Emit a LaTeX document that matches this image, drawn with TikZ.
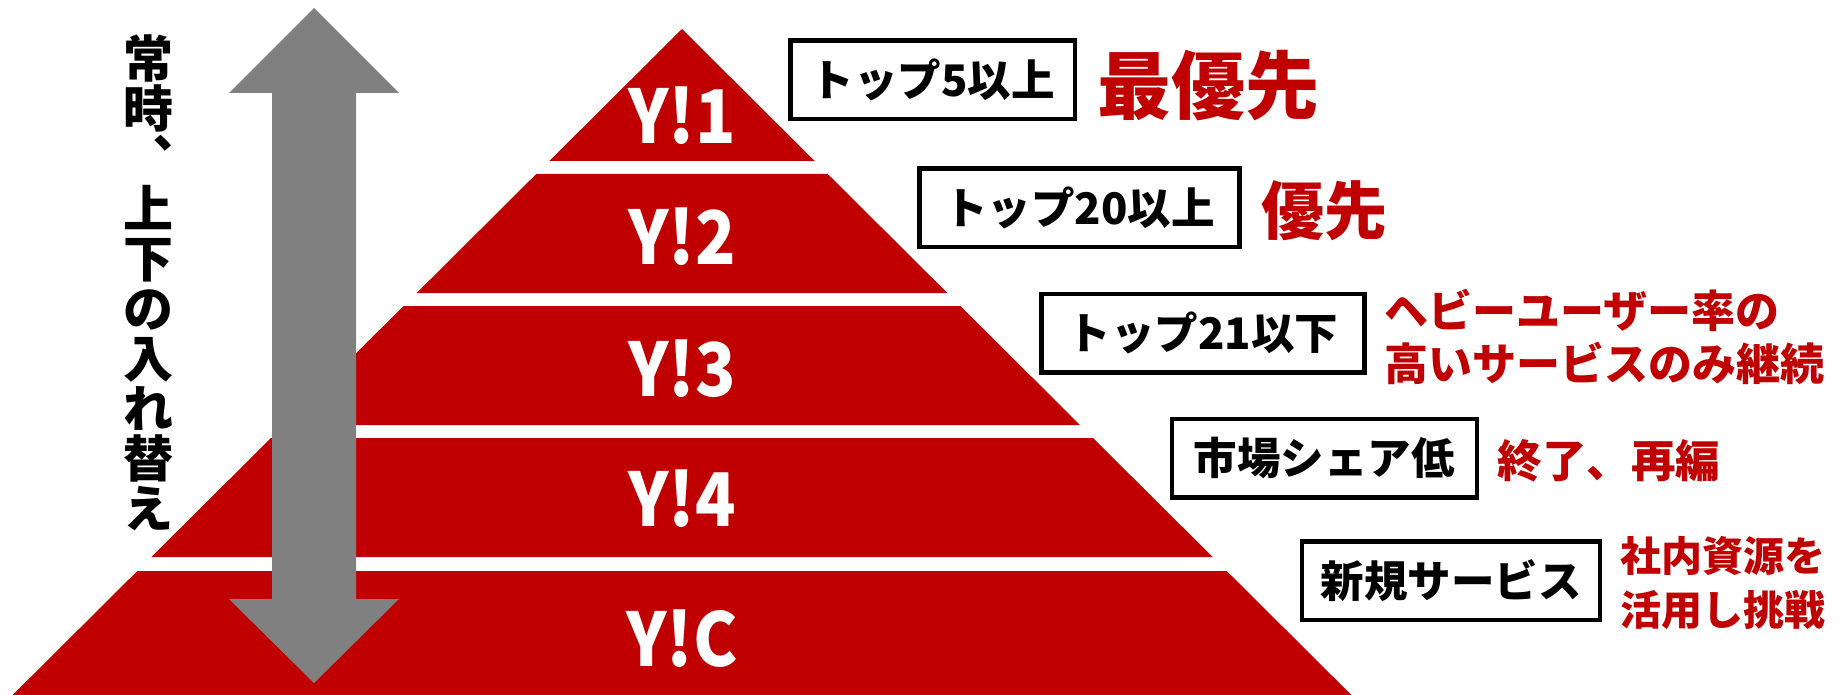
\documentclass[tikz,border=0pt]{standalone}
\usepackage{fontspec}
\newfontfamily\jp{Noto Sans CJK JP}
\newfontfamily\jplab{Noto Sans CJK JP}[FakeStretch=0.9]
\definecolor{pyred}{RGB}{192,0,0}
\definecolor{arrgray}{RGB}{128,128,128}
\newcommand\tier[2]{\fill[pyred] ({682-1.005*(#1-29)},#1) -- ({682+1.005*(#1-29)},#1) -- ({682+1.005*(#2-29)},#2) -- ({682-1.005*(#2-29)},#2) -- cycle;}
\begin{document}
\begin{tikzpicture}[x=1pt,y=-1pt,
  tierlabel/.style={text=white,inner sep=0,font=\jplab\bfseries\fontsize{74}{74}\selectfont},
  infobox/.style={draw=black,line width=4.5pt,fill=white,minimum height=78.5pt,inner sep=0,font=\jp\bfseries\fontsize{43.5}{43.5}\selectfont},
  note/.style={text=pyred,anchor=west,inner sep=0,align=left},
  vtext/.style={inner sep=0,align=center,font=\jp\bfseries\fontsize{50}{50}\selectfont}]
\useasboundingbox (0,0) rectangle (1845,695);
% pyramid
\tier{29}{161}
\tier{174}{293}
\tier{306}{425}
\tier{438}{557}
\tier{571}{695}
\node[tierlabel] (l1) at (682,115.5) {Y!1};
\node[tierlabel] (l2) at (682,236.5) {Y!2};
\node[tierlabel] (l3) at (682,368.5) {Y!3};
\node[tierlabel] (l4) at (682,498.5) {Y!4};
\node[tierlabel] (lc) at (682,639) {Y!C};
% double arrow
\fill[arrgray] (314,8) -- (399,93) -- (356,93) -- (356,599) -- (399,599) -- (314,683)
  -- (229,599) -- (272,599) -- (272,93) -- (229,93) -- cycle;
% vertical text
\node[vtext] (vt) at (148,283) {常\\時\\︑\\上\\下\\の\\入\\れ\\替\\え};
% boxes
\node[infobox,minimum width=284.5pt] (b1) at (932.5,80) {トップ5以上};
\node[infobox,minimum width=319.6pt] (b2) at (1079.5,207.7) {トップ20以上};
\node[infobox,minimum width=322.7pt] (b3) at (1202.9,333) {トップ21以下};
\node[infobox,minimum width=305pt] (b4) at (1324.3,458) {市場シェア低};
\node[infobox,minimum width=298.4pt] (b5) at (1451,580.5) {新規サービス};
% notes
\node[note,font=\jp\bfseries\fontsize{74}{74}\selectfont] (n1) at (1097,86) {最優先};
\node[note,font=\jp\bfseries\fontsize{63}{63}\selectfont] (n2) at (1261,211) {優先};
\node[note,font=\jp\bfseries\fontsize{44}{53}\selectfont] (n3) at (1384,336.5) {ヘビーユーザー率の\\高いサービスのみ継続};
\node[note,font=\jp\bfseries\fontsize{44.5}{44.5}\selectfont] (n4) at (1497.5,461) {終了、再編};
\node[note,font=\jp\bfseries\fontsize{41}{54}\selectfont] (n5) at (1620,583.5) {社内資源を\\活用し挑戦};
\end{tikzpicture}
\end{document}
